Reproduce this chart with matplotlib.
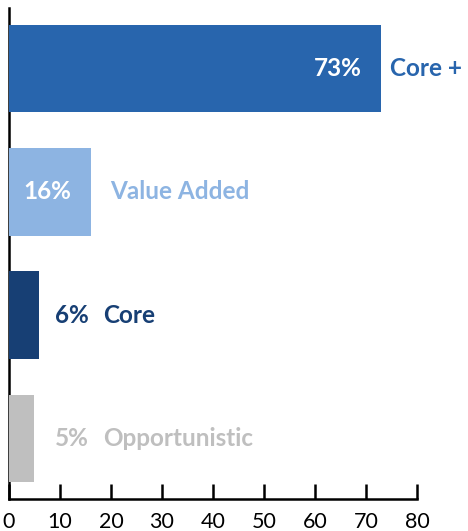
import matplotlib
matplotlib.use("Agg")
import matplotlib.pyplot as plt

# data
categories = ["Core +", "Value Added", "Core", "Opportunistic"]
values = [73, 16, 6, 5]
colors = ["#2865ad", "#8db4e2", "#173f74", "#bfbfbf"]
pct_colors = ["white", "white", "#173f74", "#bfbfbf"]
xticks = [0, 10, 20, 30, 40, 50, 60, 70, 80]

plt.rcParams["font.family"] = ["Lato", "DejaVu Sans"]
lab_font = dict(fontsize=17.5, fontweight="bold")

fig = plt.figure(figsize=(4.68, 5.31), dpi=100)
ax = fig.add_axes([0.019, 0.060, 0.872, 0.925])

ypos = list(range(len(categories)))
ax.barh(ypos, values, height=0.71, color=colors, zorder=3)

for i, v in enumerate(values):
    pct = str(v) + "%"
    if v > 50:
        # label inside, name just after the bar
        ax.text(v - 3.9, i, pct, ha="right", va="center", color=pct_colors[i], zorder=4, **lab_font)
        ax.text(v + 1.8, i, categories[i], ha="left", va="center", color=colors[i], **lab_font)
    elif v > 10:
        ax.text(v - 3.7, i, pct, ha="right", va="center", color=pct_colors[i], zorder=4, **lab_font)
        ax.text(v + 3.8, i, categories[i], ha="left", va="center", color=colors[i], **lab_font)
    else:
        ax.text(9.0, i, pct, ha="left", va="center", color=pct_colors[i], **lab_font)
        ax.text(18.4, i, categories[i], ha="left", va="center", color=colors[i], **lab_font)

ax.set_xlim(0, 80)
ax.set_ylim(3.49, -0.49)
ax.set_xticks(xticks)
ax.set_yticks([])
ax.tick_params(axis="x", direction="in", length=11, width=1.8, labelsize=15.5, pad=9)
for s in ["top", "right"]:
    ax.spines[s].set_visible(False)
ax.spines["left"].set_linewidth(1.8)
ax.spines["bottom"].set_linewidth(1.8)

fig.savefig("out.png", dpi=100)
